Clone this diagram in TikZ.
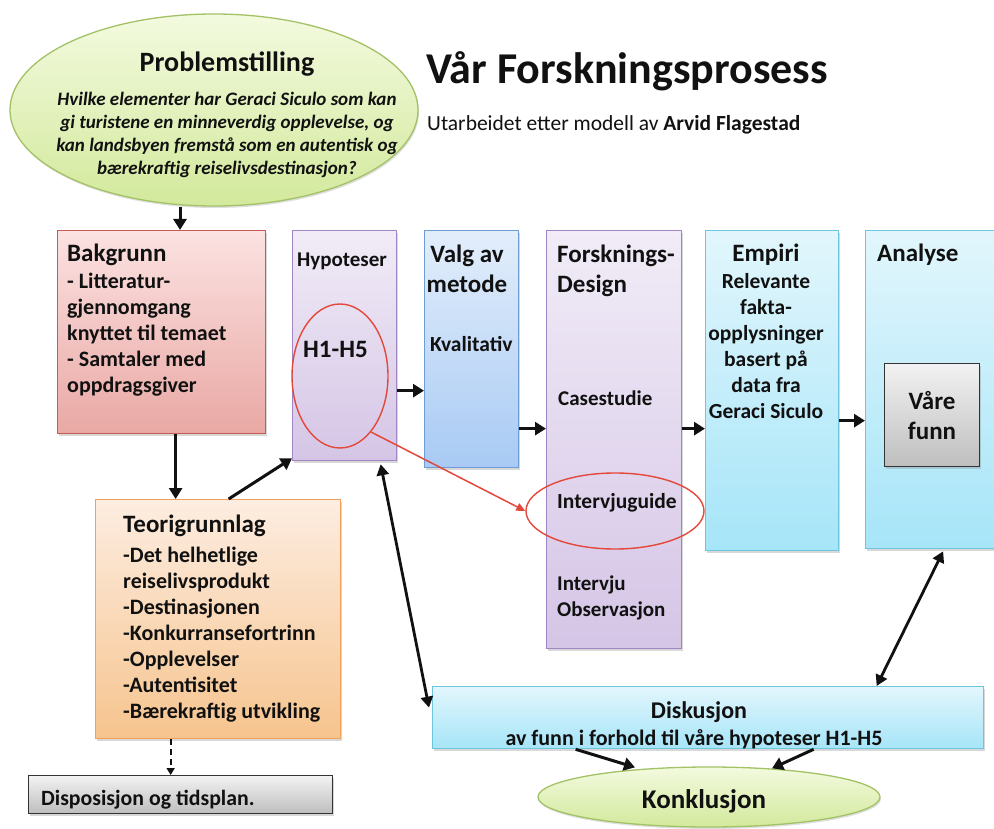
\documentclass[tikz,border=0pt]{standalone}
\usepackage{fontspec}
\setmainfont{Carlito}
\usetikzlibrary{arrows.meta,shadows,shapes.geometric,calc}

% palette
\definecolor{inkc}{HTML}{111111}
\definecolor{grnTop}{HTML}{F3FADF}
\definecolor{grnBot}{HTML}{D3E99C}
\definecolor{grnLine}{HTML}{A3C266}
\definecolor{redTop}{HTML}{FBE2E1}
\definecolor{redBot}{HTML}{E9A8A4}
\definecolor{redLine}{HTML}{C65A55}
\definecolor{lavTop}{HTML}{F1ECF7}
\definecolor{lavBot}{HTML}{D5C5E6}
\definecolor{lavLine}{HTML}{9F86C2}
\definecolor{bluTop}{HTML}{E3EEFB}
\definecolor{bluBot}{HTML}{A8CAF4}
\definecolor{bluLine}{HTML}{6E9DD6}
\definecolor{cyaTop}{HTML}{E2F6FC}
\definecolor{cyaBot}{HTML}{A6E5F8}
\definecolor{cyaLine}{HTML}{6EC6DE}
\definecolor{orgTop}{HTML}{FDEDE1}
\definecolor{orgBot}{HTML}{F6C48E}
\definecolor{orgLine}{HTML}{F3A05A}
\definecolor{gryTop}{HTML}{F2F2F2}
\definecolor{gryBot}{HTML}{BEBEBE}
\definecolor{gryLine}{HTML}{333333}
\definecolor{markRed}{HTML}{E4483A}

\newcommand\fsz[2]{\fontsize{#1}{#2}\selectfont}

\tikzset{
  panel/.style={draw, line width=1.3pt, anchor=north west, inner sep=0pt,
    drop shadow={shadow xshift=1pt, shadow yshift=-2pt, opacity=0.3}},
  redpanel/.style={panel, draw=redLine, top color=redTop, bottom color=redBot},
  lavpanel/.style={panel, draw=lavLine, top color=lavTop, bottom color=lavBot},
  blupanel/.style={panel, draw=bluLine, top color=bluTop, bottom color=bluBot},
  cyapanel/.style={panel, draw=cyaLine, top color=cyaTop, bottom color=cyaBot},
  orgpanel/.style={panel, draw=orgLine, top color=orgTop, bottom color=orgBot},
  grypanel/.style={panel, draw=gryLine, top color=gryTop, bottom color=gryBot},
  oval/.style={ellipse, draw=grnLine, line width=1.3pt, inner sep=0pt,
    top color=grnTop, bottom color=grnBot,
    drop shadow={shadow xshift=1pt, shadow yshift=-2pt, opacity=0.25}},
  ring/.style={ellipse, draw=markRed, line width=1.4pt, inner sep=0pt},
  lbl/.style={inner sep=0pt, text=inkc, font=\bfseries},
  arr/.style={draw=inkc, line width=3pt, -{Triangle[length=11pt,width=13pt]}},
  dblarr/.style={draw=inkc, line width=2.8pt,
    {Triangle[length=11pt,width=12pt]}-{Triangle[length=11pt,width=12pt]}},
  redarr/.style={draw=markRed, line width=1.5pt, -{Triangle[length=9pt,width=8pt]}},
  dasharr/.style={draw=inkc, line width=2pt, dash pattern=on 6pt off 4pt,
    -{Triangle[length=7pt,width=8pt]}},
}

\begin{document}
\begin{tikzpicture}[x=1pt,y=-1pt]
\useasboundingbox[fill=white] (0,0) rectangle (994,829);

% ---- heading
\node[lbl, anchor=base west, font=\fsz{44}{52}\bfseries] (title) at (426,84) {Vår Forskningsprosess};
\node[lbl, anchor=base west, font=\fsz{21.5}{26}] (subtitle) at (427,131)
  {Utarbeidet etter modell av \textbf{Arvid Flagestad}};

% ---- research question
\node[oval, minimum width=408pt, minimum height=192pt] (prob) at (214,110) {};
\node[lbl, anchor=base, font=\fsz{28}{33}\bfseries] (probT) at (227,72) {Problemstilling};
\node[lbl, anchor=north, align=center, font=\fsz{19}{23}\bfseries\itshape] (probQ) at (227,91.9)
  {Hvilke elementer har Geraci Siculo som kan\\
   gi turistene en minneverdig opplevelse, og\\
   kan landsbyen fremstå som en autentisk og\\
   bærekraftig reiselivsdestinasjon?};

% ---- process panels
\node[redpanel, minimum width=208pt, minimum height=203pt] (bak) at (57,230) {};
\node[lavpanel, minimum width=104pt, minimum height=230pt] (hyp) at (292,230) {};
\node[blupanel, minimum width=94pt,  minimum height=237pt] (val) at (424,230) {};
\node[lavpanel, minimum width=135pt, minimum height=418pt] (fd)  at (546,230) {};
\node[cyapanel, minimum width=133pt, minimum height=320pt] (emp) at (705,230) {};
\node[cyapanel, minimum width=145pt, minimum height=318pt] (ana) at (865,230) {};
\node[grypanel, minimum width=95pt,  minimum height=103pt] (funn) at (884,363) {};
\node[orgpanel, minimum width=245pt, minimum height=239pt] (teo) at (95,499) {};
\node[grypanel, minimum width=304pt, minimum height=38pt]  (dis) at (28,775) {};
\node[cyapanel, minimum width=551pt, minimum height=62pt]  (disk) at (432,686) {};
\node[oval, minimum width=342pt, minimum height=60pt] (konk) at (709,797) {};

% ---- panel texts
\node[lbl, anchor=base west, font=\fsz{25}{29}\bfseries] (bakT) at (67,262) {Bakgrunn};
\node[lbl, anchor=north west, align=left, font=\fsz{22}{26}\bfseries] (bakB) at (67,272.8)
  {- Litteratur-\\gjennomgang\\knyttet til temaet\\- Samtaler med\\oppdragsgiver};

\node[lbl, anchor=base, font=\fsz{21}{25}\bfseries] (hypT) at (342,267) {Hypoteser};
\node[lbl, anchor=base west, font=\fsz{25}{29}\bfseries] (hypH) at (303,357) {H1-H5};

\node[lbl, anchor=north, align=center, font=\fsz{25}{30}\bfseries] (valT) at (467,244.8) {Valg av\\metode};
\node[lbl, anchor=base west, font=\fsz{21.5}{25}\bfseries] (valK) at (430,352) {Kvalitativ};

\node[lbl, anchor=north west, align=left, font=\fsz{25}{30}\bfseries] (fdT) at (557,244.8) {Forsknings-\\Design};
\node[lbl, anchor=base west, font=\fsz{21}{25}\bfseries] (fdC) at (558,405) {Casestudie};
\node[lbl, anchor=base west, font=\fsz{21.5}{25}\bfseries] (fdI) at (557,508) {Intervjuguide};
\node[lbl, anchor=north west, align=left, font=\fsz{21}{26}\bfseries] (fdO) at (557,575.5) {Intervju\\Observasjon};

\node[lbl, anchor=base, font=\fsz{25}{29}\bfseries] (empT) at (766,262) {Empiri};
\node[lbl, anchor=north, align=center, font=\fsz{21.5}{26}\bfseries] (empB) at (766,273.2)
  {Relevante\\fakta-\\opplysninger\\basert på\\data fra\\Geraci Siculo};

\node[lbl, anchor=base west, font=\fsz{25}{29}\bfseries] (anaT) at (877,262) {Analyse};
\node[lbl, anchor=north, align=center, font=\fsz{25}{30}\bfseries] (funnT) at (932,390.8) {Våre\\funn};

\node[lbl, anchor=base west, font=\fsz{25}{29}\bfseries] (teoT) at (123,532) {Teorigrunnlag};
\node[lbl, anchor=north west, align=left, font=\fsz{22}{26}\bfseries] (teoB) at (123,546.8)
  {-Det helhetlige\\reiselivsprodukt\\-Destinasjonen\\-Konkurransefortrinn\\-Opplevelser\\-Autentisitet\\-Bærekraftig utvikling};

\node[lbl, anchor=base west, font=\fsz{21.8}{26}\bfseries] (disT) at (41,805) {Disposisjon og tidsplan.};

\node[lbl, anchor=base, font=\fsz{24}{28}\bfseries] (diskT) at (699,718) {Diskusjon};
\node[lbl, anchor=base, font=\fsz{22}{26}\bfseries] (diskB) at (694,745) {av funn i forhold til våre hypoteser H1-H5};

\node[lbl, anchor=base, font=\fsz{27}{32}\bfseries] (konkT) at (704,808) {Konklusjon};

% ---- red highlight rings
\node[ring, minimum width=96pt, minimum height=144pt] (h1) at (340,376) {};
\node[ring, minimum width=178pt, minimum height=76pt] (intg) at (615,511) {};

% ---- connectors
\draw[arr] ([xshift=-34pt]prob.south) -- ([xshift=-34pt]prob.south |- bak.north);
\draw[arr] ([xshift=14pt]bak.south) -- ([xshift=14pt]bak.south |- teo.north);
\draw[arr] ([xshift=10.5pt]teo.north) -- ([yshift=3pt]hyp.south west);
\draw[arr] ([yshift=-45pt]hyp.east) -- ([yshift=-45pt]hyp.east -| val.west);
\draw[arr] ([yshift=-79.5pt]val.east) -- ([yshift=-79.5pt]val.east -| fd.west);
\draw[arr] ([yshift=11pt]fd.east) -- ([yshift=11pt]fd.east -| emp.west);
\draw[arr] ([yshift=-30pt]emp.east) -- ([yshift=-30pt]emp.east -| ana.west);
\draw[dblarr] ([xshift=36pt,yshift=-3pt]hyp.south) -- ([xshift=-3pt,yshift=10pt]disk.west);
\draw[dblarr] ([xshift=5pt,yshift=-2pt]ana.south) -- ([xshift=168.5pt]disk.north);
\draw[arr] ([xshift=-132.5pt]disk.south) -- ([xshift=-74pt,yshift=-1pt]konk.north);
\draw[arr] ([xshift=105.5pt]disk.south) -- ([xshift=63pt,yshift=-2pt]konk.north);
\draw[dasharr] ([xshift=-47.5pt]teo.south) -- ([xshift=-47.5pt]teo.south |- dis.north);
\draw[redarr] (h1.-61) -- (intg.west);
\end{tikzpicture}
\end{document}
